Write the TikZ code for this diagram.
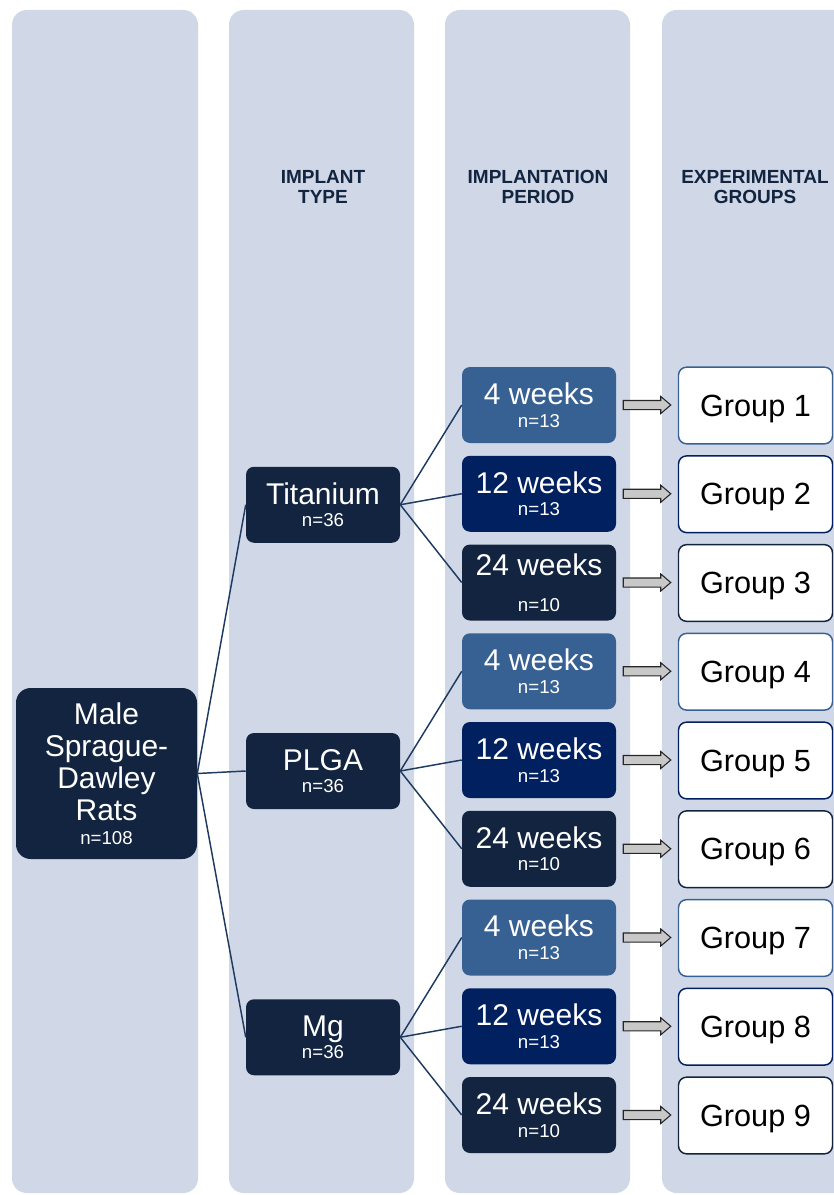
\documentclass[tikz,border=0pt]{standalone}
\usepackage{fontspec}
\setmainfont{Liberation Sans}
\usetikzlibrary{positioning,calc}
\definecolor{lanebg}{HTML}{D0D8E7}
\definecolor{darknavy}{HTML}{12243F}
\definecolor{navyblue}{HTML}{00205F}
\definecolor{midblue}{HTML}{386193}
\definecolor{linkblue}{HTML}{1F3A60}
\definecolor{arrowgray}{HTML}{C8C8C8}
\newcommand{\ncount}[1]{{\fontsize{14}{17}\selectfont n=#1}}
\newcommand{\blockarr}[2]{%
  \filldraw[arrowbody] let \p1=($(#1.east)+(7,0)$), \p2=($(#2.west)-(7,0)$) in
    (\x1,\y1+3.4pt) -- (\x2-7.5pt,\y1+3.4pt) -- (\x2-7.5pt,\y1+6.4pt) -- (\x2,\y1)
    -- (\x2-7.5pt,\y1-6.4pt) -- (\x2-7.5pt,\y1-3.4pt) -- (\x1,\y1-3.4pt) -- cycle;}
\tikzset{
        % Background lanes
        lane/.style={fill=lanebg, draw=none, rounded corners=11pt},
        % Column headings
        header/.style={align=center, inner sep=0pt, text=darknavy, font=\bfseries\fontsize{14.25}{15}\selectfont},
        treebox/.style={align=center, inner sep=0pt, text=white, rounded corners=6pt},
        % Starting population
        ratbox/.style={treebox, fill=darknavy, rounded corners=11pt, minimum width=135.75pt, minimum height=128.25pt, font=\fontsize{22.5}{24}\selectfont},
        % Implant type
        implbox/.style={treebox, fill=darknavy, minimum width=115.5pt, minimum height=57pt, font=\fontsize{22.5}{17}\selectfont},
        % Implantation period
        periodbox/.style={treebox, minimum width=115.5pt, minimum height=57pt, font=\fontsize{22.5}{17}\selectfont},
        % Experimental groups
        grpbox/.style={treebox, text=black, fill=white, line width=1.1pt, text depth=0pt, minimum width=115.5pt, minimum height=57.5pt, font=\fontsize{23}{24}\selectfont},
        link/.style={draw=linkblue, line width=1.1pt},
        arrowbody/.style={fill=arrowgray, draw=black!85, line width=0.8pt}
}

\begin{document}
\begin{tikzpicture}[x=0.75pt, y=-0.75pt]
    \useasboundingbox (0,0) rectangle (834,1195);
    \fill[lane] (12,10) rectangle (198,1193);
    \fill[lane] (229,10) rectangle (414,1193);
    \fill[lane] (445,10) rectangle (630,1193);
    \fill[lane] (662,10) rectangle (860,1193);

    \node[header] (hdtype) at (323,187) {IMPLANT\\TYPE};
    \node[header] (hdperiod) at (538,187) {IMPLANTATION\\PERIOD};
    \node[header] (hdgroups) at (755,187) {EXPERIMENTAL\\GROUPS};

    \node[ratbox] (rats) at (106.5,773.5) {Male\\Sprague-\\Dawley\\Rats\\[-6pt]\ncount{108}};

    \foreach \imp/\name [count=\m from 0] in {ti/Titanium, plga/PLGA, mg/Mg} {
        \node[implbox] (\imp) at (323,{504.75+266.25*\m}) {\name\\\ncount{36}};
        \draw[link] (rats.east) -- (\imp.west);
        \foreach \wk/\n/\shade [count=\k from 0] in {4/13/midblue, 12/13/navyblue, 24/10/darknavy} {
            \pgfmathtruncatemacro{\g}{3*\m+\k+1}
            \ifnum\g=3 \def\gap{10pt}\else\def\gap{0pt}\fi
            \node[periodbox, fill=\shade] (p\g) at (539,{405+88.75*(\g-1)}) {\wk~weeks\\[\gap]\ncount{\n}};
            \draw[link] (\imp.east) -- (p\g.west);
            \node[grpbox, draw=\shade] (g\g) at (755.5,{405.5+88.75*(\g-1)}) {Group~\g};
            \blockarr{p\g}{g\g}
        }
    }
\end{tikzpicture}
\end{document}
